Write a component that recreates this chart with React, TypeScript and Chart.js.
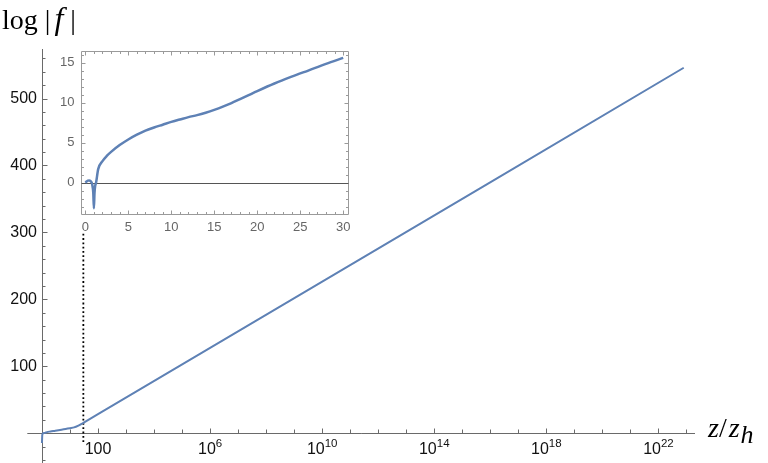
import React, { useEffect, useRef } from 'react';
import { Chart, registerables } from 'chart.js';

Chart.register(...registerables);

// ---------- data ----------
// main plot: log|f| against z/z_h (log axis)
const zMain = [1.0, 1.03, 1.1, 1.3, 1.5, 2, 3, 5, 7, 10, 14, 20, 25, 30, 100, 8e22];
const logFMain = [-14.5, -2, 0, 0.6, 1.7, 2.7, 3.85, 5.4, 6.5, 7.6, 8.75, 11.45, 13.65, 15.6, 28.5, 546];

// dotted marker at z/z_h = 30
const markerZ = [30, 30];
const markerLogF = [-13, 300];

// inset: linear z from 0 to 30
const zInset = [0, 0.15, 0.3, 0.45, 0.6, 0.75, 0.85, 0.93, 1.0, 1.07, 1.15, 1.25, 1.5, 2, 2.5, 3, 4, 5, 6, 7, 8, 9, 10, 11, 12, 13, 14, 15, 16, 17, 18, 19, 20, 22, 24, 26, 28, 30];
const logFInset = [0, 0.15, 0.25, 0.28, 0.22, 0.0, -0.5, -1.3, -3.2, -1.3, -0.4, 0, 1.7, 2.7, 3.35, 3.85, 4.7, 5.4, 6.0, 6.5, 6.9, 7.25, 7.6, 7.9, 8.2, 8.45, 8.75, 9.1, 9.5, 9.95, 10.45, 10.95, 11.45, 12.4, 13.25, 14.05, 14.85, 15.6];

// tick labels
const xTickExponents = [2, 6, 10, 14, 18, 22];
const xTickBases = ['100', '10', '10', '10', '10', '10'];
const xTickSups = ['', '6', '10', '14', '18', '22'];
const yTickValues = [100, 200, 300, 400, 500];
const insetXTicks = [0, 5, 10, 15, 20, 25, 30];
const insetYTicks = [0, 5, 10, 15];

// ---------- ranges ----------
const MAIN_X_MIN = Math.pow(10, -0.5);
const MAIN_X_MAX = Math.pow(10, 23.305);
const MAIN_Y_MIN = -44.4;
const MAIN_Y_MAX = 574;
const MAIN_Y_AXIS_AT = 1; // the y axis crosses at z/z_h = 1
const MAIN_Y_LABEL_AT = Math.pow(10, -5 / 28.05); // right edge of y tick labels (5px left of the axis)
const INSET_X_MIN = -0.5;
const INSET_X_MAX = 30.5;
const INSET_Y_MIN = -3.95;
const INSET_Y_MAX = 16.5;
const INSET_Y_LABEL_AT = INSET_X_MIN - 6.5 / 8.597; // 6.5px left of the frame

// ---------- styles ----------
const BLUE = 'rgb(94,129,181)';
const MAIN_AXIS = '#6a6a6a';
const MAIN_TICK_TEXT = '#111111';
const INSET_FRAME = '#9a9a9a';
const INSET_TICK_TEXT = '#666666';
const SANS = '"Liberation Sans", Arial, sans-serif';

const zeroPad = (s: any) => {
  s.paddingLeft = 0;
  s.paddingRight = 0;
  s.paddingTop = 0;
  s.paddingBottom = 0;
};

const crisp = (v: number) => Math.round(v) + 0.5;

const mainAxesPlugin = {
  id: 'mainAxes',
  beforeDatasetsDraw(chart: any) {
    const { ctx, chartArea: a, scales } = chart;
    const xs = scales.x;
    const ys = scales.y;
    const x0 = crisp(xs.getPixelForValue(MAIN_Y_AXIS_AT));
    const y0 = crisp(ys.getPixelForValue(0));
    ctx.save();
    ctx.strokeStyle = MAIN_AXIS;
    ctx.lineWidth = 1;
    ctx.beginPath();
    ctx.moveTo(a.left, y0);
    ctx.lineTo(a.right, y0);
    ctx.moveTo(x0, a.top);
    ctx.lineTo(x0, a.bottom);
    // y ticks (inward, to the right)
    for (let v = -40; v <= ys.max; v += 20) {
      if (v === 0) continue;
      const p = crisp(ys.getPixelForValue(v));
      const len = v % 100 === 0 ? 5 : 3;
      ctx.moveTo(x0, p);
      ctx.lineTo(x0 + len, p);
    }
    // x ticks (upward), one per decade
    for (let e = 1; e <= 23; e++) {
      const p = crisp(xs.getPixelForValue(Math.pow(10, e)));
      const len = xTickExponents.includes(e) ? 5 : 4;
      ctx.moveTo(p, y0);
      ctx.lineTo(p, y0 - len);
    }
    ctx.stroke();
    ctx.restore();
  },
  afterDatasetsDraw(chart: any) {
    // x tick labels with proper superscripts, placed by the x scale
    const { ctx, scales } = chart;
    const xs = scales.x;
    const ys = scales.y;
    const baseline = ys.getPixelForValue(0) + 20.3;
    ctx.save();
    ctx.fillStyle = MAIN_TICK_TEXT;
    ctx.textBaseline = 'alphabetic';
    ctx.textAlign = 'left';
    xTickExponents.forEach((e, i) => {
      const px = xs.getPixelForValue(Math.pow(10, e));
      const base = xTickBases[i];
      const sup = xTickSups[i];
      ctx.font = `16px ${SANS}`;
      const wb = ctx.measureText(base).width;
      ctx.font = `11.5px ${SANS}`;
      const we = sup ? ctx.measureText(sup).width : 0;
      const left = px - (wb + we) / 2;
      ctx.font = `16px ${SANS}`;
      ctx.fillText(base, left, baseline);
      if (sup) {
        ctx.font = `11.5px ${SANS}`;
        ctx.fillText(sup, left + wb, baseline - 6.6);
      }
    });
    ctx.restore();
  },
};

const insetFramePlugin = {
  id: 'insetFrame',
  beforeDatasetsDraw(chart: any) {
    const { ctx, chartArea: a, scales } = chart;
    const xs = scales.x;
    const ys = scales.y;
    ctx.save();
    ctx.strokeStyle = INSET_FRAME;
    ctx.lineWidth = 1;
    const L = crisp(a.left), R = crisp(a.right), T = crisp(a.top), B = crisp(a.bottom);
    ctx.beginPath();
    ctx.rect(L, T, R - L, B - T);
    for (let v = 0; v <= 30; v++) {
      const p = crisp(xs.getPixelForValue(v));
      const len = v % 5 === 0 ? 4 : 2.5;
      ctx.moveTo(p, B);
      ctx.lineTo(p, B - len);
      ctx.moveTo(p, T);
      ctx.lineTo(p, T + len);
    }
    for (let v = -3; v <= 16; v++) {
      const p = crisp(ys.getPixelForValue(v));
      const len = v % 5 === 0 ? 4 : 2.5;
      ctx.moveTo(L, p);
      ctx.lineTo(L + len, p);
      ctx.moveTo(R, p);
      ctx.lineTo(R - len, p);
    }
    ctx.stroke();
    // zero line
    const y0 = crisp(ys.getPixelForValue(0));
    ctx.strokeStyle = '#555555';
    ctx.beginPath();
    ctx.moveTo(L, y0);
    ctx.lineTo(R, y0);
    ctx.stroke();
    ctx.restore();
  },
};

export default function App() {
  const mainRef = useRef<HTMLCanvasElement>(null);
  const insetRef = useRef<HTMLCanvasElement>(null);

  useEffect(() => {
    const main = new Chart(mainRef.current as HTMLCanvasElement, {
      type: 'line',
      data: {
        datasets: [
          {
            data: zMain.map((z, i) => ({ x: z, y: logFMain[i] })),
            borderColor: BLUE,
            borderWidth: 2,
            pointRadius: 0,
            cubicInterpolationMode: 'monotone',
            fill: false,
          },
          {
            data: markerZ.map((z, i) => ({ x: z, y: markerLogF[i] })),
            borderColor: '#000000',
            borderWidth: 1.8,
            borderDash: [1.8, 2.5],
            borderCapStyle: 'butt',
            pointRadius: 0,
            fill: false,
          },
        ],
      },
      options: {
        animation: false,
        responsive: false,
        layout: { padding: { left: 27.3, right: 73, top: 49, bottom: 0 } },
        plugins: { legend: { display: false }, tooltip: { enabled: false } },
        scales: {
          x: {
            type: 'logarithmic',
            min: MAIN_X_MIN,
            max: MAIN_X_MAX,
            position: { y: 0 },
            grid: { display: false, drawTicks: false },
            border: { display: false },
            ticks: { display: false, autoSkip: false, maxRotation: 0, minRotation: 0 },
            afterBuildTicks: (s: any) => {
              s.ticks = xTickExponents.map((e) => ({ value: Math.pow(10, e) }));
            },
            afterFit: zeroPad,
          },
          y: {
            type: 'linear',
            min: MAIN_Y_MIN,
            max: MAIN_Y_MAX,
            position: { x: MAIN_Y_LABEL_AT },
            grid: { display: false, drawTicks: false },
            border: { display: false },
            ticks: {
              autoSkip: false,
              padding: 0,
              color: MAIN_TICK_TEXT,
              font: { family: SANS, size: 16 },
            },
            afterBuildTicks: (s: any) => {
              s.ticks = yTickValues.map((v) => ({ value: v }));
            },
            afterFit: zeroPad,
          },
        },
      } as any,
      plugins: [mainAxesPlugin],
    });

    const inset = new Chart(insetRef.current as HTMLCanvasElement, {
      type: 'line',
      data: {
        datasets: [
          {
            data: zInset.map((z, i) => ({ x: z, y: logFInset[i] })),
            borderColor: BLUE,
            borderWidth: 2.5,
            pointRadius: 0,
            cubicInterpolationMode: 'monotone',
            fill: false,
          },
        ],
      },
      options: {
        animation: false,
        responsive: false,
        layout: { padding: { left: 41, right: 12.5, top: 10.7, bottom: 25.7 } },
        plugins: { legend: { display: false }, tooltip: { enabled: false } },
        scales: {
          x: {
            type: 'linear',
            min: INSET_X_MIN,
            max: INSET_X_MAX,
            position: { y: INSET_Y_MIN },
            grid: { display: false, drawTicks: false },
            border: { display: false },
            ticks: {
              autoSkip: false,
              maxRotation: 0,
              minRotation: 0,
              padding: 5,
              color: INSET_TICK_TEXT,
              font: { family: SANS, size: 13 },
            },
            afterBuildTicks: (s: any) => {
              s.ticks = insetXTicks.map((v) => ({ value: v }));
            },
            afterFit: zeroPad,
          },
          y: {
            type: 'linear',
            min: INSET_Y_MIN,
            max: INSET_Y_MAX,
            position: { x: INSET_Y_LABEL_AT },
            grid: { display: false, drawTicks: false },
            border: { display: false },
            ticks: {
              autoSkip: false,
              padding: 0,
              color: INSET_TICK_TEXT,
              font: { family: SANS, size: 13 },
            },
            afterBuildTicks: (s: any) => {
              s.ticks = insetYTicks.map((v) => ({ value: v }));
            },
            afterFit: zeroPad,
          },
        },
      } as any,
      plugins: [insetFramePlugin],
    });

    return () => {
      main.destroy();
      inset.destroy();
    };
  }, []);

  const serif = '"Liberation Serif", "Times New Roman", serif';

  return (
    <div
      style={{
        position: 'fixed',
        left: 0,
        top: 0,
        width: 768,
        height: 463,
        overflow: 'hidden',
        background: '#ffffff',
      }}
    >
      <canvas
        ref={mainRef}
        width={768}
        height={463}
        style={{ position: 'absolute', left: 0, top: 0, width: 768, height: 463 }}
      />
      <canvas
        ref={insetRef}
        width={320}
        height={200}
        style={{ position: 'absolute', left: 40, top: 40, width: 320, height: 200 }}
      />
      <div
        style={{
          position: 'absolute',
          left: 2,
          top: 3.5,
          fontFamily: serif,
          fontSize: 28,
          lineHeight: '28px',
          whiteSpace: 'nowrap',
          color: '#000',
        }}
      >
        log
        <span style={{ marginLeft: 7 }}>|</span>
        <i style={{ fontSize: 32, marginLeft: 4, marginRight: 7 }}>f</i>|
      </div>
      <div
        style={{
          position: 'absolute',
          left: 708,
          top: 414.2,
          fontFamily: serif,
          fontSize: 28,
          lineHeight: '28px',
          whiteSpace: 'nowrap',
          color: '#000',
        }}
      >
        <i>z</i>/<i style={{ marginLeft: 2 }}>z</i>
        <span style={{ fontSize: 26, position: 'relative', top: 6, marginLeft: 1 }}>
          <i>h</i>
        </span>
      </div>
    </div>
  );
}
